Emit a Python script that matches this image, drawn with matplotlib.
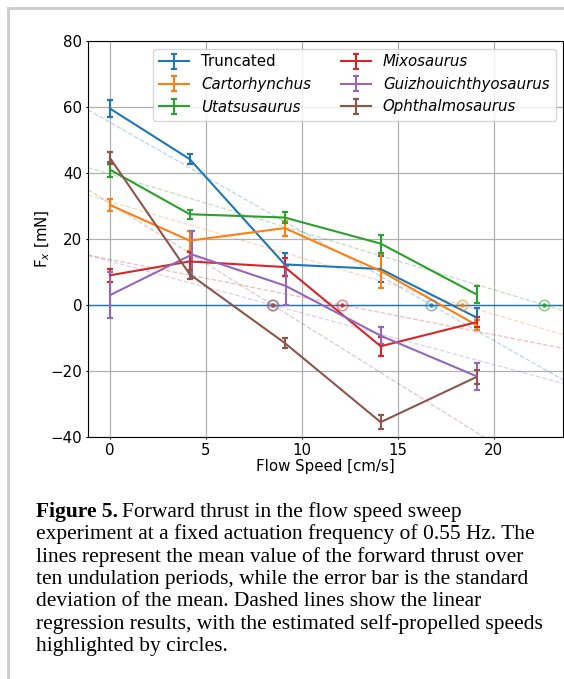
import numpy as np
import matplotlib
matplotlib.use("Agg")
import matplotlib.pyplot as plt
from matplotlib.lines import Line2D

# ---- data ----
names = ["Truncated", "Cartorhynchus", "Utatsusaurus",
         "Mixosaurus", "Guizhouichthyosaurus", "Ophthalmosaurus"]
italic = [False, True, True, True, True, True]

speed_common = [0.0, 4.15, 9.1, 14.1, 19.1]
speed_guizhou = [0.0, 4.27, 9.15, 14.1, 19.1]

truncated_mean = [59.5, 44.2, 12.3, 10.9, -3.8]
truncated_err = [2.5, 1.5, 3.5, 3.9, 3.0]
cartorhynchus_mean = [30.3, 19.5, 23.3, 10.3, -6.1]
cartorhynchus_err = [1.8, 3.0, 2.3, 5.1, 1.6]
utatsusaurus_mean = [41.0, 27.5, 26.5, 18.6, 3.2]
utatsusaurus_err = [2.3, 1.3, 1.6, 2.7, 2.6]
mixosaurus_mean = [9.0, 13.2, 11.5, -12.5, -5.2]
mixosaurus_err = [2.0, 3.0, 2.7, 2.9, 1.6]
guizhou_mean = [3.0, 15.3, 5.8, -9.3, -21.6]
guizhou_err = [7.0, 7.1, 5.9, 2.6, 4.1]
ophthalmo_mean = [44.5, 9.3, -11.5, -35.5, -21.8]
ophthalmo_err = [1.9, 1.4, 1.5, 2.1, 2.2]

series_x = [speed_common, speed_common, speed_common,
            speed_common, speed_guizhou, speed_common]
series_y = [truncated_mean, cartorhynchus_mean, utatsusaurus_mean,
            mixosaurus_mean, guizhou_mean, ophthalmo_mean]
series_e = [truncated_err, cartorhynchus_err, utatsusaurus_err,
            mixosaurus_err, guizhou_err, ophthalmo_err]
colors = ["C0", "C1", "C2", "C3", "C4", "C5"]

xticks = [0, 5, 10, 15, 20]
yticks = [-40, -20, 0, 20, 40, 60, 80]

caption_lines = [
    "Forward thrust in the flow speed sweep",
    "experiment at a fixed actuation frequency of 0.55 Hz. The",
    "lines represent the mean value of the forward thrust over",
    "ten undulation periods, while the error bar is the standard",
    "deviation of the mean. Dashed lines show the linear",
    "regression results, with the estimated self-propelled speeds",
    "highlighted by circles.",
]

# ---- figure ----
fs = 10.8
plt.rcParams["font.size"] = fs
fig = plt.figure(figsize=(5.64, 6.79), dpi=100)
ax = fig.add_axes([88 / 564, 1 - 437 / 679, (563 - 88) / 564, (437 - 41) / 679])

xlim = (-1.15, 23.6)
xx = np.linspace(xlim[0], xlim[1], 50)

ax.axhline(0, color="C0", lw=1.0, zorder=2)

handles = []
for name, it, x, y, e, c in zip(names, italic, series_x, series_y, series_e, colors):
    x = np.asarray(x); y = np.asarray(y)
    h = ax.errorbar(x, y, yerr=e, color=c, lw=1.5, capsize=2.3, capthick=1.6,
                    elinewidth=1.5, label=name, zorder=3)
    handles.append(h)
    k, b = np.polyfit(x, y, 1)
    ax.plot(xx, k * xx + b, ls="--", color=c, lw=0.9, alpha=0.3, zorder=2)
    x0 = -b / k
    ax.plot([x0], [0], marker="o", ms=7.5, mfc="none", mec=c, mew=1.2,
            alpha=0.5, ls="none", zorder=4)
    ax.plot([x0], [0], marker=".", ms=4.5, color=c, alpha=0.8, ls="none", zorder=4)

ax.set_xlim(*xlim)
ax.set_ylim(-40, 80)
ax.set_xticks(xticks)
ax.set_yticks(yticks)
ax.tick_params(length=1.5, pad=2.6)
ax.grid(True, color="#b0b0b0", lw=0.9)
ax.set_axisbelow(True)
ax.set_xlabel("Flow Speed [cm/s]", labelpad=1)
ax.set_ylabel(r"F$_x$ [mN]", labelpad=-1)

leg = ax.legend(handles, names, ncol=2, loc="upper right", fontsize=fs,
                columnspacing=2.0, handlelength=2.0)
for t, it in zip(leg.get_texts(), italic):
    if it:
        t.set_fontstyle("italic")

# ---- page frame ----
fig.add_artist(Line2D([8 / 564, 8 / 564], [0, 1 - 8 / 679], color="#cccccc", lw=2,
                      transform=fig.transFigure))
fig.add_artist(Line2D([8 / 564, 1], [1 - 8 / 679, 1 - 8 / 679], color="#cccccc", lw=2,
                      transform=fig.transFigure))

# ---- caption ----
cfs = 15.5
serif = ["Liberation Serif", "DejaVu Serif"]
x_left = 36 / 564
y0 = 1 - 512 / 679
dy = 22.5 / 679
t0 = fig.text(x_left, y0, "Figure 5.", fontsize=cfs, family=serif, weight="bold",
              va="center", ha="left")
fig.canvas.draw()
bb = t0.get_window_extent()
x_after = (bb.x1 + 4) / fig.bbox.width
fig.text(x_after, y0, caption_lines[0], fontsize=cfs, family=serif,
         va="center", ha="left")
for i, line in enumerate(caption_lines[1:], start=1):
    fig.text(x_left, y0 - i * dy, line, fontsize=cfs, family=serif,
             va="center", ha="left")

fig.savefig("out.png", dpi=100)
